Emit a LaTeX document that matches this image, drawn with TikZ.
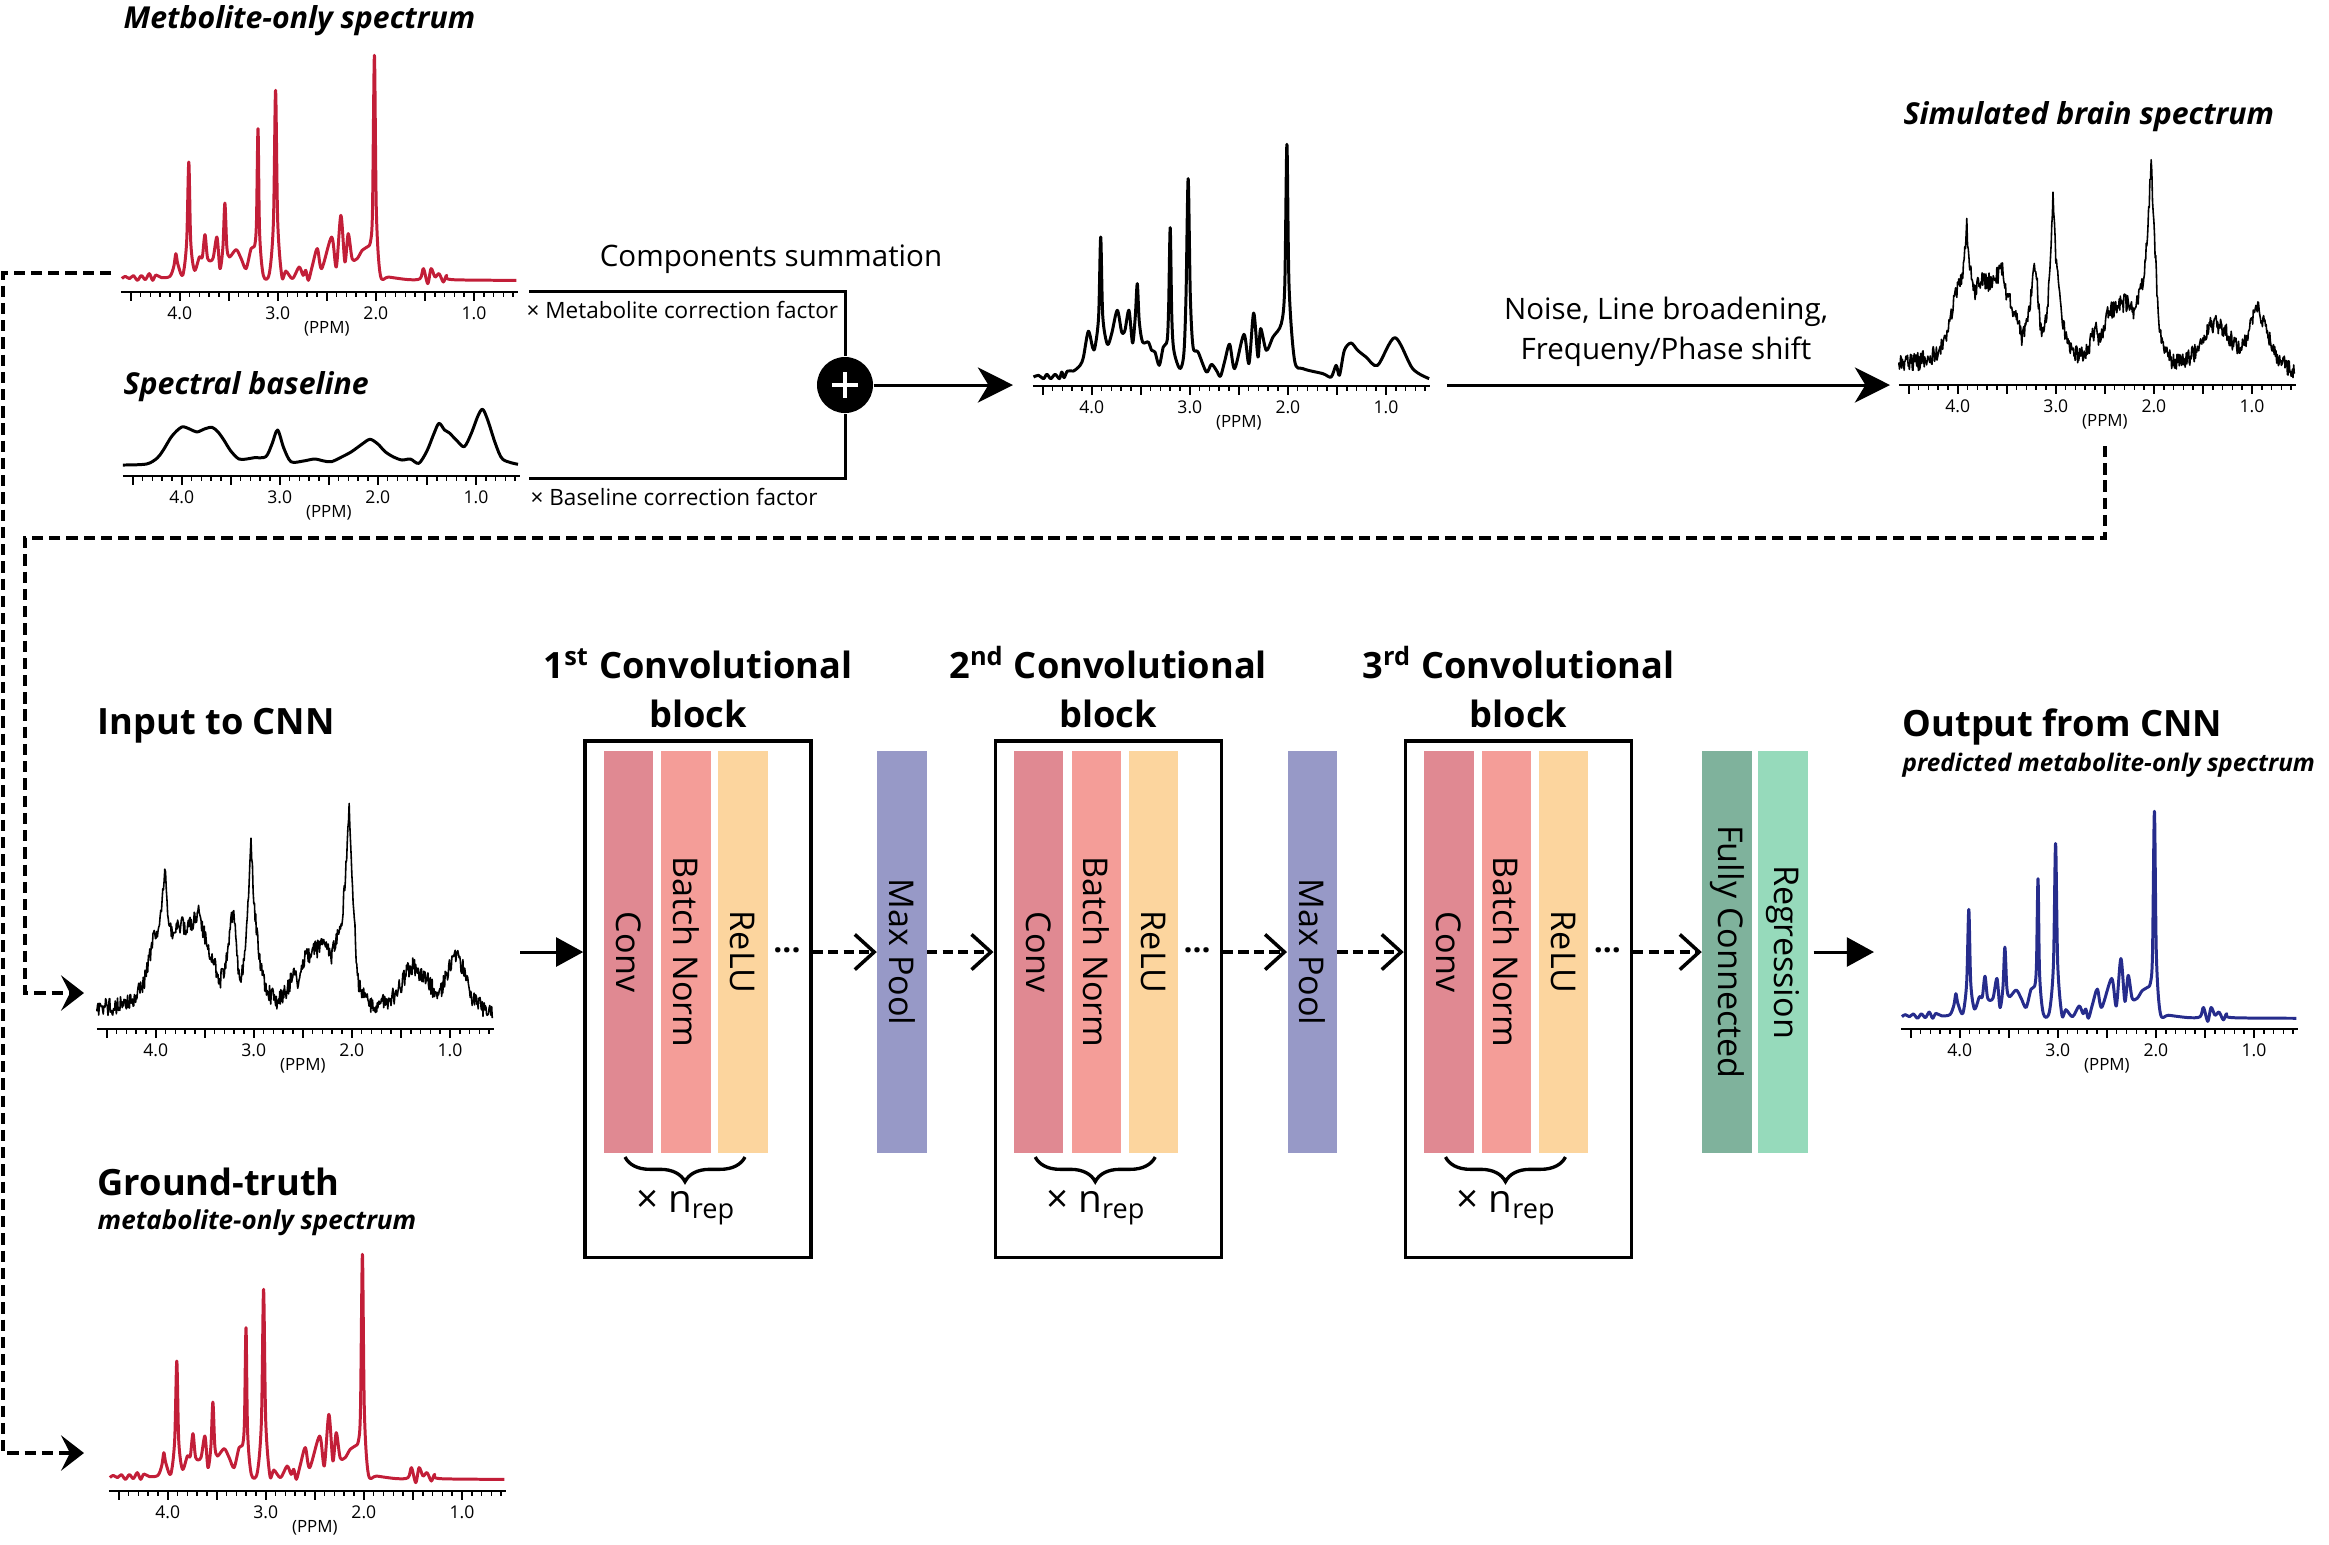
\documentclass[tikz,border=0pt]{standalone}
\usepackage{fontspec}
\setmainfont{Open Sans}
\usetikzlibrary{positioning,arrows.meta,calc,decorations.pathreplacing}

\definecolor{specred}{RGB}{194,30,56}
\definecolor{specblue}{RGB}{38,44,140}
\definecolor{convc}{RGB}{224,137,146}
\definecolor{bnc}{RGB}{244,157,152}
\definecolor{reluc}{RGB}{252,213,158}
\definecolor{poolc}{RGB}{151,153,199}
\definecolor{fcc}{RGB}{127,178,156}
\definecolor{regc}{RGB}{150,218,187}

\tikzset{
  axisline/.style={line width=0.6pt},
  tickline/.style={line width=0.45pt},
  ppmnum/.style={font=\fontsize{5}{6}\selectfont, inner sep=0pt},
  ppmunit/.style={font=\fontsize{4.8}{6}\selectfont, inner sep=0pt},
  cleanspec/.style={line width=0.85pt, line join=round},
  noisyline/.style={line width=0.45pt, line join=round},
  spectitle/.style={anchor=west, inner sep=0pt, font=\fontsize{8.6}{10}\selectfont\bfseries\itshape},
  bigtitle/.style={anchor=west, inner sep=0pt, font=\fontsize{10.3}{12}\selectfont\bfseries},
  subtitle/.style={anchor=west, inner sep=0pt, font=\fontsize{7.4}{9}\selectfont\bfseries\itshape},
  steplbl/.style={inner sep=0pt, font=\fontsize{8.4}{11.4}\selectfont, align=center},
  factorlbl/.style={anchor=west, inner sep=0pt, font=\fontsize{6.4}{8}\selectfont},
  flowline/.style={line width=0.85pt},
  flowarrow/.style={line width=0.85pt, -{Stealth[length=10pt, width=10pt, inset=3pt]}},
  dashconn/.style={line width=1.1pt, dash pattern=on 3.2pt off 1.7pt,
    -{Stealth[length=6.5pt, width=10pt, inset=2.5pt]}},
  sumnode/.style={circle, fill=black, minimum size=0.56cm, inner sep=0pt},
  blockbox/.style={draw, line width=0.95pt, minimum width=2.26cm, minimum height=5.16cm, inner sep=0pt},
  blocktitle/.style={font=\fontsize{10.3}{14}\selectfont\bfseries, align=center, inner sep=0pt},
  bar/.style={rectangle, rotate=-90, minimum width=4.01cm, minimum height=0.49cm, inner sep=0pt,
    font=\fontsize{9.7}{10}\selectfont},
  dotsnode/.style={inner sep=0pt, font=\fontsize{9}{10}\selectfont\bfseries},
  repnode/.style={inner sep=0pt, font=\fontsize{11}{12}\selectfont},
  cnnarrow/.style={line width=0.85pt, -{Triangle[length=7.7pt, width=8.2pt]}},
  cnndash/.style={line width=1pt, dash pattern=on 2.9pt off 1.5pt,
    -{Straight Barb[length=5.5pt, width=10pt]}}
}

% spectra: (ppm, height in px above the axis)
\newcommand{\metpts}{(4.59,13.4) (4.557,15.7) (4.513,13.4) (4.473,16.4) (4.432,11.7) (4.392,16.4)
 (4.351,12.4) (4.311,18.4) (4.277,11.7) (4.243,17) (4.186,14.4) (4.10,15.7) (4.06,26) (4.04,38.4)
 (4.02,28) (3.97,16.7) (3.93,50) (3.908,130) (3.888,50) (3.85,21.7) (3.80,35) (3.77,35) (3.743,57.4)
 (3.715,33.4) (3.662,33.4) (3.621,55) (3.59,23.4) (3.56,45) (3.54,89) (3.52,45) (3.493,35)
 (3.425,42.4) (3.374,33.4) (3.324,23.4) (3.273,43.4) (3.236,46.7) (3.218,70) (3.202,163.4)
 (3.186,60) (3.148,16.7) (3.087,18.4) (3.045,70) (3.023,201.7) (3.001,70) (2.958,15) (2.918,21)
 (2.85,13.4) (2.783,25) (2.742,16.7) (2.715,21.7) (2.688,11.7) (2.647,26.7) (2.597,43.4)
 (2.553,23.4) (2.451,55) (2.404,25) (2.357,76.7) (2.316,30) (2.282,58.4) (2.242,33.4) (2.191,33.4)
 (2.14,41.7) (2.09,45) (2.056,50) (2.035,80) (2.015,236.7) (1.995,80) (1.954,16.7) (1.87,15)
 (1.667,12.4) (1.549,13.4) (1.515,23.4) (1.471,8.4) (1.437,23.4) (1.397,15) (1.356,18.4) (1.312,10)
 (1.278,16.7) (1.227,12.4) (0.568,11.7)}
\newcommand{\sumpts}{(4.594,9) (4.543,10.7) (4.492,7.4) (4.458,11.7) (4.418,7.4) (4.374,11.7)
 (4.330,7.4) (4.306,14) (4.282,8.4) (4.248,15) (4.187,15) (4.119,20.7) (4.085,29) (4.035,54.7)
 (3.99,38) (3.967,39) (3.93,70) (3.909,149) (3.888,70) (3.841,41.7) (3.797,52.4) (3.740,75.7)
 (3.695,54) (3.662,55.7) (3.621,75.7) (3.584,43) (3.556,70) (3.536,102.4) (3.516,65) (3.482,44)
 (3.424,44) (3.39,35.7) (3.356,34) (3.312,20.7) (3.271,39) (3.231,45.7) (3.216,80) (3.200,158.4)
 (3.184,70) (3.163,35.7) (3.102,17.4) (3.061,32.4) (3.039,90) (3.017,207.4) (2.995,90) (2.967,39)
 (2.916,34) (2.831,14) (2.780,21.7) (2.729,15.7) (2.688,9.7) (2.644,25) (2.594,41.7) (2.543,17.4)
 (2.448,51.7) (2.397,22.4) (2.349,73) (2.305,29) (2.278,57.4) (2.220,35.7) (2.152,49) (2.067,62.4)
 (2.032,100) (2.010,241.7) (1.988,100) (1.932,25.7) (1.847,17.4) (1.644,12.4) (1.559,9) (1.508,20.7)
 (1.474,10.7) (1.424,35.7) (1.356,43) (1.288,35.7) (1.203,29) (1.085,20.7) (0.908,48.4) (0.728,17.4)
 (0.559,7.4)}
\newcommand{\basepts}{(4.60,11) (4.36,12) (4.25,18) (4.188,26) (4.10,40) (4.00,49) (3.92,47)
 (3.846,44) (3.77,47) (3.691,48.7) (3.63,44) (3.571,36) (3.50,25) (3.417,17) (3.34,17) (3.262,18.3)
 (3.143,19.3) (3.08,32) (3.023,46) (2.96,28) (2.886,14.3) (2.76,15) (2.646,17) (2.55,15) (2.474,14.3)
 (2.37,19) (2.269,24.3) (2.16,32) (2.08,36.7) (2.00,32) (1.926,24.3) (1.84,19) (1.754,16) (1.669,17)
 (1.583,12.7) (1.50,25) (1.43,42) (1.377,52.7) (1.32,46) (1.274,43.3) (1.20,36) (1.12,29.3) (1.05,42)
 (0.98,60) (0.932,66.7) (0.88,56) (0.80,32) (0.726,16.7) (0.571,11.7)}
\newcommand{\noisypts}{4.60/20, 4.50/22, 4.42/23, 4.33/26, 4.25/30, 4.18/36, 4.135/42,
 4.09/58, 4.067/72, 4.016/92, 3.97/102, 3.935/125, 3.908/160, 3.885/125, 3.86/105, 3.83/92,
 3.79/100, 3.746/105, 3.70/102, 3.644/105, 3.59/110, 3.55/118, 3.52/100, 3.492/88, 3.45/78,
 3.408/68, 3.347/48, 3.30/60, 3.26/85, 3.235/105, 3.212/118, 3.19/100, 3.16/62, 3.137/48,
 3.105/62, 3.087/75, 3.06/120, 3.029/185, 3.0/130, 2.968/95, 2.94/70, 2.901/50, 2.84/35,
 2.765/28, 2.70/33, 2.664/38, 2.62/50, 2.596/55, 2.546/45, 2.50/62, 2.478/72, 2.42/76,
 2.36/80, 2.30/82, 2.275/82, 2.235/76, 2.208/74, 2.16/88, 2.123/100, 2.09/120, 2.06/160,
 2.028/225, 2.00/160, 1.975/110, 1.95/62, 1.937/48, 1.88/33, 1.819/25, 1.717/25, 1.64/27,
 1.582/32, 1.53/38, 1.481/48, 1.43/58, 1.379/63, 1.32/58, 1.261/52, 1.20/44, 1.15/37,
 1.109/35, 1.06/46, 1.024/58, 0.98/70, 0.94/75, 0.90/68, 0.855/58, 0.80/38, 0.754/28,
 0.70/24, 0.62/18, 0.568/14}

\newcommand{\drawpts}[2]{\draw[#2] plot[smooth, tension=0.5] coordinates {#1};}
% #1 x of 4.0 ppm, #2 axis y, #3 height scale, #4 style, #5 points
\newcommand{\spec}[5]{%
  \begin{scope}[shift={(#1+392,#2)}, x=0.98cm, xscale=-1, y=0.01cm, yscale=#3]
    \expandafter\drawpts\expandafter{#5}{#4}
  \end{scope}}
% noisy version: #1 x of 4.0 ppm, #2 axis y, #3 p/h list
\newcommand{\noisyspec}[3]{%
  \begin{scope}[shift={(#1+392,#2)}, x=0.98cm, xscale=-1, y=0.01cm]
    \draw[noisyline] (4.6,20)
      \foreach \p/\h [remember=\p as \lp (initially 4.6), remember=\h as \lh (initially 20),
                      evaluate=\p as \nn using {int(max(1,abs(\p-\lp)*170))}] in #3 {
        \foreach \k in {1,...,\nn} {
          -- ({\lp+(\p-\lp)*\k/\nn}, {\lh+(\h-\lh)*\k/\nn+9*rand})
        }
      };
  \end{scope}}
% #1 x of 4.0 ppm, #2 axis y, #3 name prefix
\newcommand{\ppmaxis}[3]{%
  \begin{scope}[shift={(#1+392,#2)}, x=0.98cm, xscale=-1, y=0.01cm]
    \draw[axisline] (4.6,0) -- (0.55,0);
    \foreach \t in {6,...,45} \draw[tickline] (\t/10,0) -- (\t/10,-5);
    \foreach \t in {2,...,9} \draw[tickline] (\t/2,0) -- (\t/2,-9);
    \foreach \t in {1,...,4} \node[ppmnum] (#3n\t) at (\t,-21) {\t.0};
    \node[ppmunit] (#3unit) at (2.5,-37) {(PPM)};
  \end{scope}}

\begin{document}
\begin{tikzpicture}[x=0.01cm, y=-0.01cm]
\pgfmathsetseed{7}
\useasboundingbox (0,0) rectangle (2329,1544);

% top row: components
\node[spectitle] (metTitle) at (123,21) {Metbolite-only spectrum};
\spec{180}{292}{1}{cleanspec, specred}{\metpts}
\ppmaxis{180}{292}{met}
\node[spectitle] (baseTitle) at (123,387) {Spectral baseline};
\spec{182}{476}{1}{cleanspec}{\basepts}
\ppmaxis{182}{476}{base}

\node[steplbl] (sumLbl) at (771,259) {Components summation};
\node[sumnode] (sum) at (845,385) {};
\draw[white, line width=1.1pt] (sum.center) ++(-13,0) -- ++(26,0) (sum.center) ++(0,-13) -- ++(0,26);
\coordinate (metOut) at (529,291);
\coordinate (baseOut) at (529,478);
\coordinate (sumIn) at (1013,385);
\draw[flowline] (metOut) -| (sum);
\draw[flowline] (baseOut) -| (sum);
\draw[flowarrow] (sum) -- (sumIn);
\node[factorlbl] (metFac) at (526,310) {× Metabolite correction factor};
\node[factorlbl] (baseFac) at (530,497) {× Baseline correction factor};

\spec{1092}{386}{1}{cleanspec}{\sumpts}
\ppmaxis{1092}{386}{sum}

\node[steplbl] (noiseLbl) at (1666,332) {Noise, Line broadening,\\Frequeny/Phase shift};
\coordinate (noiseOut) at (1447,385);
\coordinate (simIn) at (1890,385);
\draw[flowarrow] (noiseOut) -- (simIn);

\node[spectitle] (simTitle) at (1903,117) {Simulated brain spectrum};
\noisyspec{1958}{385}{\noisypts}
\ppmaxis{1958}{385}{sim}

% dashed feeds
\coordinate (metTap) at (111,273);
\coordinate (gtRail) at (3,1453);
\coordinate (gtIn) at (84,1453);
\draw[dashconn] (metTap) -| (gtRail) -- (gtIn);
\coordinate (simTap) at (2105,446);
\coordinate (railTop) at (25,538);
\coordinate (inIn) at (84,993);
\draw[dashconn] (simTap) |- (railTop) |- (inIn);

% input / ground truth
\node[bigtitle] (inTitle) at (97,726) {Input to CNN};
\noisyspec{156}{1029}{\noisypts}
\ppmaxis{156}{1029}{in}
\node[bigtitle] (gtTitle) at (97,1182) {Ground-truth};
\node[subtitle] (gtSub) at (97,1223) {metabolite-only spectrum};
\spec{168}{1491}{1}{cleanspec, specred}{\metpts}
\ppmaxis{168}{1491}{gt}

% CNN
\foreach \sfx [count=\i] in {st,nd,rd} {
  \begin{scope}[xshift=(\i-1)*4.1cm]
    \node[blockbox] (blk\i) at (698,999) {};
    \node[blocktitle, above=3pt of blk\i] (ttl\i) {\i\textsuperscript{\sfx} Convolutional\\block};
    \node[bar, fill=convc] (conv\i) at (628.5,952) {Conv};
    \node[bar, fill=bnc] (bn\i) at (686,952) {Batch Norm};
    \node[bar, fill=reluc] (relu\i) at (743,952) {ReLU};
    \node[dotsnode] (dots\i) at (787,950) {...};
    \draw[line width=0.95pt, decorate, decoration={brace, mirror, amplitude=7pt}] (625,1157) -- (745,1157);
    \node[repnode] (rep\i) at (686,1208) {× n\textsubscript{rep}};
    \ifnum\i<3
      \node[bar, fill=poolc] (pool\i) at (902,952) {Max Pool};
      \draw[cnndash] (blk\i.east |- relu\i) -- (pool\i);
    \fi
  \end{scope}
}
\foreach \i/\j in {1/2,2/3}
  \draw[cnndash] (pool\i) -- (blk\j.west |- pool\i);

\coordinate (inOut) at (520,952);
\draw[cnnarrow] (inOut) -- (blk1.west |- inOut);
\node[bar, fill=fcc] (fc) at (1727,952) {Fully Connected};
\node[bar, fill=regc] (reg) at (1783,952) {Regression};
\draw[cnndash] (blk3.east |- fc) -- (fc);
\coordinate (outIn) at (1874,952);
\draw[cnnarrow, shorten <=1.5pt] (reg) -- (outIn);

% output
\node[bigtitle] (outTitle) at (1902,727) {Output from CNN};
\node[subtitle, font=\fontsize{6.9}{9}\selectfont\bfseries\itshape] (outSub) at (1902,765) {predicted metabolite-only spectrum};
\spec{1960}{1029}{0.92}{cleanspec, specblue}{\metpts}
\ppmaxis{1960}{1029}{out}

\end{tikzpicture}
\end{document}
